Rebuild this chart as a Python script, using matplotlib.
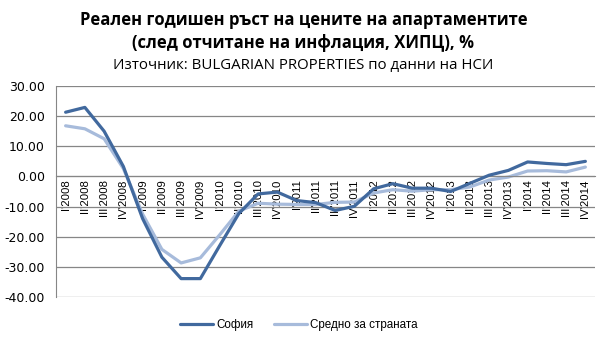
import numpy as np
import matplotlib
matplotlib.use("Agg")
import matplotlib.pyplot as plt

# Тримесечия и години
quarters = ["I", "II", "III", "IV"]
years = [2008, 2009, 2010, 2011, 2012, 2013, 2014]
labels = [f"{q}'{y}" for y in years for q in quarters]

# Реален годишен ръст, %
sofia = [21.3, 22.9, 15.0, 3.3, -14.0, -26.8, -33.9, -33.9, -23.0, -12.3,
         -5.8, -5.2, -8.0, -8.7, -11.3, -9.9, -4.1, -2.4, -3.9, -3.9,
         -5.0, -2.3, 0.4, 2.0, 4.8, 4.3, 3.9, 5.0]
average = [16.8, 15.8, 12.5, 2.6, -12.5, -24.2, -28.7, -27.0, -19.4, -11.5,
           -8.9, -9.2, -9.3, -9.3, -8.6, -8.5, -5.5, -4.4, -4.9, -4.4,
           -4.4, -3.5, -1.2, -0.2, 1.8, 1.9, 1.5, 3.1]

dark = '#41699E'
light = '#A7BBDB'
grid = '#868686'

plt.rcParams['font.family'] = ['Liberation Sans', 'DejaVu Sans']

fig = plt.figure(figsize=(6.07, 3.43), dpi=100)
ax = fig.add_axes([56/607, 1-297/343, (595-56)/607, (297-86)/343])

# оста X минава през нулата (set_position нулира тиковете, затова е първо)
ax.spines['bottom'].set_position(('data', 0))
ax.spines['bottom'].set_color(grid)
ax.spines['left'].set_color(grid)
ax.spines['top'].set_visible(False)
ax.spines['right'].set_visible(False)

x = np.arange(len(labels))
ax.plot(x, sofia, color=dark, lw=2.3, solid_joinstyle='round',
        solid_capstyle='round', label='София', zorder=3)
ax.plot(x, average, color=light, lw=2.3, solid_joinstyle='round',
        solid_capstyle='round', label='Средно за страната', zorder=2)

ax.set_xlim(-0.5, len(labels) - 0.5)
ax.set_ylim(-40, 30)
yt = np.arange(-40, 31, 10)
ax.set_yticks(yt)
ax.set_yticklabels([f"{v:.2f}" for v in yt], fontsize=9, family='DejaVu Sans')
ax.yaxis.grid(True, color=grid, lw=0.9)
ax.set_axisbelow(True)

ax.set_xticks(x)
ax.set_xticklabels(labels, rotation=90, fontsize=8.2, va='top')
ax.tick_params(axis='x', length=0, pad=2)
ax.tick_params(axis='y', length=0, pad=8)

title_font = ['Open Sans', 'DejaVu Sans']
fig.text(0.5, 1-20/343, 'Реален годишен ръст на цените на апартаментите',
         ha='center', va='center', fontsize=12, fontweight='bold', family=title_font)
fig.text(0.5, 1-43/343, '(след отчитане на инфлация, ХИПЦ), %',
         ha='center', va='center', fontsize=12, fontweight='bold', family=title_font)
fig.text(0.5, 1-66/343, 'Източник: BULGARIAN PROPERTIES по данни на НСИ',
         ha='center', va='center', fontsize=10.8, family=title_font)

fig.legend(loc='center', bbox_to_anchor=(299/607, 1-325/343), ncol=2,
           frameon=False, fontsize=8.4, handlelength=2.8, columnspacing=1.8,
           handletextpad=0.3)

fig.savefig('out.png', dpi=100)
